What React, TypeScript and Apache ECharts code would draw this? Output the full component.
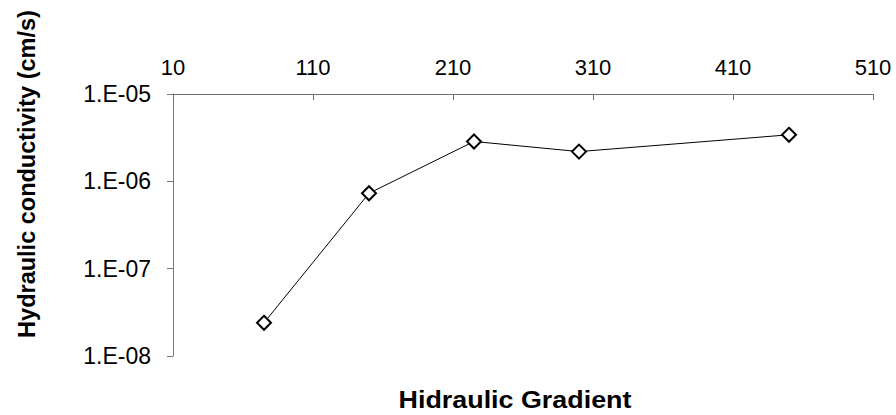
import React, { useEffect, useRef } from "react";
import * as echarts from "echarts";

const gradient = [75, 150, 225, 300, 450];
const conductivity = [2.4e-8, 7.3e-7, 2.86e-6, 2.19e-6, 3.41e-6];
const xTitle = "Hidraulic Gradient";
const yTitle = "Hydraulic conductivity (cm/s)";

const fmtExp = (v: number) => {
  const e = Math.round(Math.log10(v));
  const a = Math.abs(e);
  return `1.E${e < 0 ? "-" : "+"}${String(a).padStart(2, "0")}`;
};

export default function App() {
  const ref = useRef<HTMLDivElement>(null);
  useEffect(() => {
    if (!ref.current) return;
    const chart = echarts.init(ref.current, null, { renderer: "svg" });
    const font = "'Liberation Sans', Arial, Helvetica, sans-serif";
    chart.setOption({
      animation: false,
      backgroundColor: "#ffffff",
      grid: { left: 173, top: 94, width: 700, height: 262, containLabel: false },
      xAxis: {
        type: "value",
        position: "top",
        min: 10,
        max: 510,
        interval: 100,
        axisLine: { show: true, onZero: false, lineStyle: { color: "#6f6f6f", width: 1 } },
        axisTick: { show: true, inside: true, length: 6, lineStyle: { color: "#6f6f6f" } },
        axisLabel: { show: true, color: "#000", fontSize: 22, fontFamily: font, margin: 16 },
        splitLine: { show: false },
      },
      yAxis: {
        type: "log",
        logBase: 10,
        min: 1e-8,
        max: 1e-5,
        axisLine: { show: true, lineStyle: { color: "#7a7a7a", width: 1 } },
        axisTick: { show: true, inside: false, length: 6, lineStyle: { color: "#7a7a7a" } },
        axisLabel: {
          color: "#000",
          fontSize: 23,
          fontFamily: font,
          margin: 22,
          formatter: (v: number) => fmtExp(v),
        },
        splitLine: { show: false },
        minorTick: { show: false },
      },
      series: [
        {
          type: "line",
          data: gradient.map((g, i) => [g, conductivity[i]]),
          symbol: "diamond",
          symbolSize: 14,
          lineStyle: { color: "#000", width: 1 },
          itemStyle: { color: "#ffffff", borderColor: "#000", borderWidth: 2 },
        },
      ],
      graphic: [
        {
          type: "text",
          x: 515,
          y: 400,
          scaleX: 1.12,
          style: {
            text: xTitle,
            font: `bold 24px ${font}`,
            fill: "#000",
            align: "center",
            verticalAlign: "middle",
          },
        },
        {
          type: "text",
          x: 27,
          y: 174,
          rotation: Math.PI / 2,
          style: {
            text: yTitle,
            font: `bold 23.5px ${font}`,
            fill: "#000",
            align: "center",
            verticalAlign: "middle",
          },
        },
      ],
    });
    return () => chart.dispose();
  }, []);
  return (
    <div
      ref={ref}
      style={{ position: "fixed", left: 0, top: 0, width: 896, height: 415 }}
    />
  );
}
